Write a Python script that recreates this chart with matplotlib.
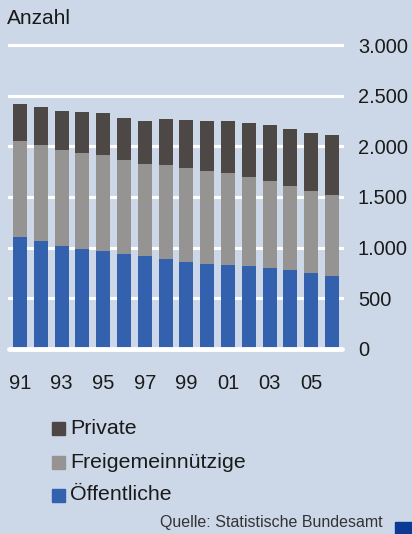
import matplotlib
matplotlib.use("Agg")
import matplotlib.pyplot as plt
from matplotlib.patches import Rectangle
import numpy as np

plt.rcParams["font.family"] = ["Liberation Sans", "DejaVu Sans"]

years = ["91", "92", "93", "94", "95", "96", "97", "98", "99", "00", "01", "02", "03", "04", "05", "06"]
oeffentliche = [1110, 1062, 1020, 984, 972, 933, 919, 884, 856, 843, 825, 817, 796, 780, 751, 717]
freigemein = [938, 949, 948, 949, 939, 928, 909, 929, 928, 909, 909, 879, 860, 830, 810, 801]
private = [366, 375, 385, 405, 415, 415, 425, 455, 475, 494, 514, 534, 553, 563, 573, 592]
yticks = [0, 500, 1000, 1500, 2000, 2500, 3000]
ytick_labels = ["0", "500", "1.000", "1.500", "2.000", "2.500", "3.000"]
xtick_labels = ["91", "93", "95", "97", "99", "01", "03", "05"]
series_names = ["Öffentliche", "Freigemeinnützige", "Private"]

bg = "#CCD8E8"
c_blue = "#3361AD"
c_grey = "#969492"
c_dark = "#4D4846"
txt = "#1a1a1a"

W, H = 412, 534
fig = plt.figure(figsize=(W / 100, H / 100), dpi=100, facecolor=bg)
ax = fig.add_axes([9 / W, (H - 349) / H, (342 - 9) / W, (349 - 45) / H])
ax.set_facecolor(bg)

x = np.arange(len(years))
b1 = np.array(oeffentliche)
b2 = b1 + np.array(freigemein)

for v in yticks[1:]:
    ax.axhline(v, color="white", lw=2.2, zorder=1, clip_on=False)
ax.axhline(0, color="white", lw=3.5, zorder=3, clip_on=False, solid_capstyle="round")

w = 0.67
ax.bar(x, oeffentliche, width=w, color=c_blue, zorder=2)
ax.bar(x, freigemein, width=w, bottom=b1, color=c_grey, zorder=2)
ax.bar(x, private, width=w, bottom=b2, color=c_dark, zorder=2)

ax.set_xlim(-0.53, 15.48)
ax.set_ylim(0, 3000)
for s in ax.spines.values():
    s.set_visible(False)

ax.yaxis.tick_right()
ax.set_yticks(yticks)
ax.set_yticklabels(ytick_labels, fontsize=14.4, color=txt)
ax.tick_params(axis="y", length=0, pad=11.5)

ax.set_xticks(x[::2])
ax.set_xticklabels(xtick_labels, fontsize=14.5, color=txt)
ax.tick_params(axis="x", length=0, pad=18)

fig.text(7 / W, 1 - 18 / H, "Anzahl", fontsize=15, color=txt, va="center", ha="left")

# legend
leg_items = [(c_dark, "Private", 428), (c_grey, "Freigemeinnützige", 462), (c_blue, "Öffentliche", 495)]
for col, name, yc in leg_items:
    fig.patches.append(Rectangle((52 / W, 1 - (yc + 7) / H), 13 / W, 13 / H, transform=fig.transFigure, color=col, figure=fig))
    fig.text(70 / W, 1 - yc / H, name, fontsize=15.4, color=txt, va="center", ha="left")

fig.text(383 / W, 1 - 523 / H, "Quelle: Statistische Bundesamt", fontsize=11.5, color="#333333", va="center", ha="right")
fig.patches.append(Rectangle((395 / W, 0), 17 / W, 12 / H, transform=fig.transFigure, color="#0A3A94", figure=fig))

fig.savefig("out.png", dpi=100, facecolor=bg)
